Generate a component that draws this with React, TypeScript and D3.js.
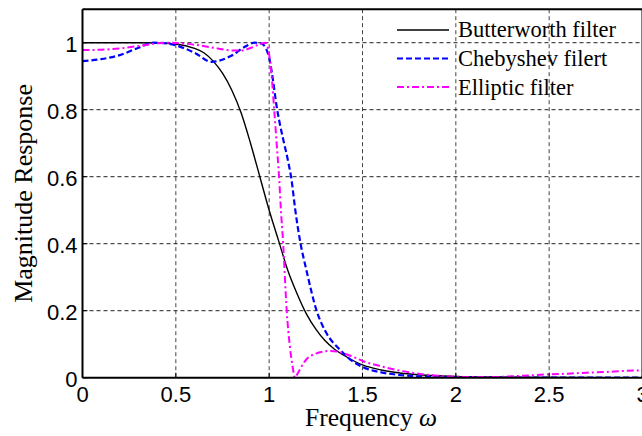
import React from "react";
import * as d3 from "d3";

const butterW = [0, 0.2, 0.3, 0.4, 0.5, 0.6, 0.65, 0.7, 0.75, 0.8, 0.85, 0.9, 0.95, 1.0, 1.05, 1.1, 1.15, 1.2, 1.25, 1.3, 1.35, 1.4, 1.5, 1.6, 1.7, 1.8, 1.9, 2.0, 2.2, 2.5, 3.0];
const butterH = [1, 1, 1, 0.999, 0.996, 0.983, 0.97, 0.945, 0.909, 0.858, 0.79, 0.7, 0.6, 0.5, 0.41, 0.32, 0.25, 0.19, 0.145, 0.11, 0.085, 0.067, 0.038, 0.023, 0.014, 0.009, 0.006, 0.004, 0.002, 0.0007, 0.0002];

const chebyW = [0, 0.1, 0.2, 0.3, 0.383, 0.45, 0.5, 0.6, 0.69, 0.8, 0.87, 0.924, 0.96, 0.985, 1.0, 1.02, 1.04, 1.06, 1.08, 1.1, 1.12, 1.14, 1.165, 1.2, 1.254, 1.3, 1.38, 1.45, 1.5, 1.6, 1.7, 1.8, 1.9, 2.0, 2.2, 2.5, 3.0];
const chebyH = [0.945, 0.951, 0.963, 0.985, 1.0, 0.998, 0.992, 0.97, 0.943, 0.962, 0.988, 1.0, 0.997, 0.98, 0.955, 0.89, 0.81, 0.75, 0.7, 0.65, 0.59, 0.5, 0.41, 0.32, 0.2, 0.14, 0.083, 0.048, 0.032, 0.016, 0.008, 0.004, 0.002, 0.001, 0.0005, 0.0002, 0.0001];

const ellipW = [0, 0.1, 0.2, 0.3, 0.4, 0.45, 0.5, 0.6, 0.7, 0.8, 0.85, 0.9, 0.95, 0.98, 0.995, 1.01, 1.027, 1.04, 1.053, 1.063, 1.075, 1.094, 1.111, 1.125, 1.138, 1.15, 1.17, 1.2, 1.25, 1.3, 1.33, 1.38, 1.45, 1.5, 1.6, 1.7, 1.8, 1.9, 2.0, 2.1, 2.2, 2.3, 2.4, 2.5, 2.6, 2.7, 2.8, 2.9, 3.0];
const ellipH = [0.978, 0.979, 0.983, 0.99, 0.998, 1.0, 0.999, 0.994, 0.985, 0.977, 0.977, 0.984, 0.996, 1.0, 0.98, 0.92, 0.8, 0.7, 0.6, 0.5, 0.4, 0.2, 0.093, 0.035, 0.0, 0.01, 0.03, 0.055, 0.072, 0.079, 0.08, 0.076, 0.062, 0.05, 0.034, 0.021, 0.012, 0.006, 0.003, 0.002, 0.002, 0.004, 0.007, 0.01, 0.012, 0.015, 0.017, 0.02, 0.022];

const xTicks = [0, 0.5, 1, 1.5, 2, 2.5, 3];
const xTickLabels = ["0", "0.5", "1", "1.5", "2", "2.5", "3"];
const yTicks = [0, 0.2, 0.4, 0.6, 0.8, 1];
const yTickLabels = ["0", "0.2", "0.4", "0.6", "0.8", "1"];

const legendLabels = ["Butterworth filter", "Chebyshev filert", "Elliptic filter"];

const W = 642, H = 436;
const L = 82.5, R = 642.5, T = 9.2, B = 377.7;

export default function App() {
  const x = d3.scaleLinear().domain([0, 3]).range([L, R]);
  const y = d3.scaleLinear().domain([0, 1.1]).range([B, T]);
  const line = (ws: number[], hs: number[]) =>
    d3.line<number>().x((_, i) => x(ws[i])).y((d) => y(d)).curve(d3.curveMonotoneX)(hs) || "";

  const series = [
    { d: line(butterW, butterH), color: "#000000", width: 1.4, dash: "" },
    { d: line(chebyW, chebyH), color: "#0000ff", width: 2.2, dash: "6,3" },
    { d: line(ellipW, ellipH), color: "#ff00ff", width: 2, dash: "7,3,2,3" },
  ];

  return (
    <svg width={W} height={H} style={{ position: "absolute", left: 0, top: 0, background: "#fff" }}>
      <defs>
        <clipPath id="plotclip">
          <rect x={L} y={T} width={R - L} height={B - T} />
        </clipPath>
      </defs>
      <rect x={0} y={0} width={W} height={H} fill="#fff" />
      {xTicks.filter((t) => t > 0 && t < 3).map((t) => (
        <line key={"gx" + t} x1={x(t)} x2={x(t)} y1={T} y2={B} stroke="#444" strokeWidth={1} strokeDasharray="4,3" />
      ))}
      {yTicks.filter((t) => t > 0).map((t) => (
        <line key={"gy" + t} x1={L} x2={R} y1={y(t)} y2={y(t)} stroke="#222" strokeWidth={1} strokeDasharray="4,3" />
      ))}
      <g clipPath="url(#plotclip)">
        {series.map((s, i) => (
          <path key={i} d={s.d} fill="none" stroke={s.color} strokeWidth={s.width} strokeDasharray={s.dash || undefined} />
        ))}
      </g>
      <line x1={L} x2={L} y1={T} y2={B} stroke="#000" strokeWidth={2} />
      <line x1={L} x2={R + 2} y1={B} y2={B} stroke="#000" strokeWidth={2} />
      <line x1={L} x2={R + 2} y1={T} y2={T} stroke="#000" strokeWidth={2} />
      <line x1={R} x2={R} y1={T} y2={B} stroke="#000" strokeWidth={2} />
      {yTicks.map((t) => (
        <line key={"ty" + t} x1={L} x2={L + 5} y1={y(t)} y2={y(t)} stroke="#000" strokeWidth={1} />
      ))}
      {xTicks.map((t) => (
        <line key={"tx" + t} x1={x(t)} x2={x(t)} y1={B} y2={B - 5} stroke="#000" strokeWidth={1} />
      ))}
      {yTicks.map((t, i) => (
        <text key={"ly" + t} x={L - 5} y={y(t) + 9} textAnchor="end" fontFamily="Liberation Sans, Arial, sans-serif" fontSize={22} fill="#000">
          {yTickLabels[i]}
        </text>
      ))}
      {xTicks.map((t, i) => (
        <text key={"lx" + t} x={x(t)} y={401.7} textAnchor="middle" fontFamily="Liberation Sans, Arial, sans-serif" fontSize={22} fill="#000">
          {xTickLabels[i]}
        </text>
      ))}
      <text x={305} y={426} fontFamily="Liberation Serif, Times New Roman, serif" fontSize={25.5} fill="#000">
        Frequency <tspan fontStyle="italic">ω</tspan>
      </text>
      <text transform={`translate(32,${(T + B) / 2}) rotate(-90)`} textAnchor="middle" fontFamily="Liberation Serif, Times New Roman, serif" fontSize={26} fill="#000">
        Magnitude Response
      </text>
      {series.map((s, i) => (
        <g key={"lg" + i}>
          <line x1={397} x2={449} y1={30 + i * 28.5} y2={30 + i * 28.5} stroke={s.color} strokeWidth={s.width} strokeDasharray={s.dash || undefined} />
          <text x={458} y={37 + i * 29} fontFamily="Liberation Serif, Times New Roman, serif" fontSize={22.5} fill="#000">
            {legendLabels[i]}
          </text>
        </g>
      ))}
    </svg>
  );
}
